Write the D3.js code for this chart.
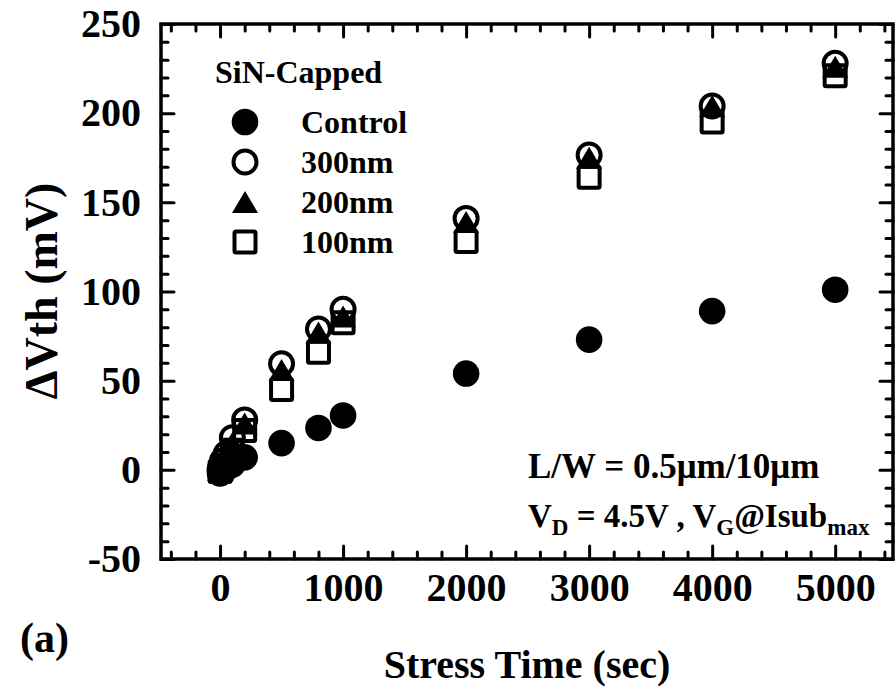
<!DOCTYPE html>
<html>
<head>
<meta charset="utf-8">
<script src="https://cdn.jsdelivr.net/npm/d3@7/dist/d3.min.js"></script>
<style>
  html, body { margin: 0; padding: 0; background: #fff; }
  svg text { font-family: "Liberation Serif", "Times New Roman", serif; font-weight: bold; fill: #000; }
</style>
</head>
<body>
<svg id="chart" width="896" height="698"></svg>
<script>
// Stress times (sec) and threshold-voltage shift (mV) per capping condition
const times    = [0, 10, 20, 50, 100, 200, 500, 800, 1000, 2000, 3000, 4000, 5000];
const control  = [-2, -1, 0, 1, 3, 7, 15, 23.5, 30.5, 54, 73, 89, 101];
const cap300nm = [0, 2, 5, 9, 18, 28, 59.5, 79, 90, 141, 176.5, 204, 228];
const cap200nm = [0, 1, 4, 7, 15, 26, 56, 77, 86, 139, 175, 204, 226];
const cap100nm = [-1, 0, 2, 5, 11, 22, 45, 66, 82.5, 128, 164, 195, 221];

const xTickValues = [0, 1000, 2000, 3000, 4000, 5000];
const yTickValues = [-50, 0, 50, 100, 150, 200, 250];
const seriesNames = ["Control", "300nm", "200nm", "100nm"];
const seriesShapes = ["disc", "ring", "triangle", "square"];

const svg = d3.select("#chart");
const frame = { left: 161, right: 893, top: 24, bottom: 559 };

const x = d3.scaleLinear().domain([-480, 5470]).range([frame.left, frame.right]);
const y = d3.scaleLinear().domain([-50, 250]).range([frame.bottom, frame.top]);

const xMinor = d3.range(-400, 5401, 200).filter(v => v % 1000 !== 0);
const yMinor = d3.range(-40, 250, 10).filter(v => v % 50 !== 0);

// plain hyphen for negative numbers
const tickFmt = v => String(v);

function styleAxis(g) {
  g.select(".domain").remove();
  g.selectAll(".tick line").attr("stroke", "#000").attr("stroke-width", 3).attr("stroke-linecap", "round");
  g.selectAll(".tick text").style("font-size", "40px");
}

// ticks pointing inward on all four sides
svg.append("g").attr("transform", `translate(0,${frame.bottom})`)
  .call(d3.axisBottom(x).tickValues(xTickValues).tickSizeInner(-13).tickSizeOuter(0).tickPadding(14).tickFormat(tickFmt))
  .call(styleAxis);
svg.append("g").attr("transform", `translate(0,${frame.bottom})`)
  .call(d3.axisBottom(x).tickValues(xMinor).tickSizeInner(-7).tickSizeOuter(0).tickFormat(""))
  .call(styleAxis);
svg.append("g").attr("transform", `translate(0,${frame.top})`)
  .call(d3.axisTop(x).tickValues(xTickValues).tickSizeInner(-13).tickSizeOuter(0).tickFormat(""))
  .call(styleAxis);
svg.append("g").attr("transform", `translate(0,${frame.top})`)
  .call(d3.axisTop(x).tickValues(xMinor).tickSizeInner(-7).tickSizeOuter(0).tickFormat(""))
  .call(styleAxis);

svg.append("g").attr("transform", `translate(${frame.left},0)`)
  .call(d3.axisLeft(y).tickValues(yTickValues).tickSizeInner(-13).tickSizeOuter(0).tickPadding(20).tickFormat(tickFmt))
  .call(styleAxis);
svg.append("g").attr("transform", `translate(${frame.left},0)`)
  .call(d3.axisLeft(y).tickValues(yMinor).tickSizeInner(-7).tickSizeOuter(0).tickFormat(""))
  .call(styleAxis);
svg.append("g").attr("transform", `translate(${frame.right},0)`)
  .call(d3.axisRight(y).tickValues(yTickValues).tickSizeInner(-13).tickSizeOuter(0).tickFormat(""))
  .call(styleAxis);
svg.append("g").attr("transform", `translate(${frame.right},0)`)
  .call(d3.axisRight(y).tickValues(yMinor).tickSizeInner(-7).tickSizeOuter(0).tickFormat(""))
  .call(styleAxis);

// plot frame
svg.append("rect")
  .attr("x", frame.left).attr("y", frame.top)
  .attr("width", frame.right - frame.left).attr("height", frame.bottom - frame.top)
  .attr("fill", "none").attr("stroke", "#000").attr("stroke-width", 3.5);

// marker drawing
function drawMarker(g, shape, cx, cy) {
  if (shape === "disc") {
    g.append("circle").attr("cx", cx).attr("cy", cy).attr("r", 13.3).attr("fill", "#000");
  } else if (shape === "ring") {
    g.append("circle").attr("cx", cx).attr("cy", cy).attr("r", 11.5)
      .attr("fill", "none").attr("stroke", "#000").attr("stroke-width", 4);
  } else if (shape === "triangle") {
    const w = 13, h = 11;
    g.append("path").attr("d", `M${cx},${cy - h}L${cx + w},${cy + h}L${cx - w},${cy + h}Z`).attr("fill", "#000");
  } else if (shape === "square") {
    const s = 10.5;
    g.append("rect").attr("x", cx - s).attr("y", cy - s).attr("width", 2 * s).attr("height", 2 * s)
      .attr("rx", 1.5).attr("fill", "none").attr("stroke", "#000").attr("stroke-width", 4);
  }
}

const allSeries = [control, cap300nm, cap200nm, cap100nm];
const marks = svg.append("g");
allSeries.forEach((vals, i) => {
  const g = marks.append("g").attr("class", "series-" + seriesNames[i]);
  vals.forEach((v, j) => drawMarker(g, seriesShapes[i], x(times[j]), y(v)));
});

// legend
const legend = svg.append("g");
legend.append("text").attr("x", 215).attr("y", 83).style("font-size", "32px").text("SiN-Capped");
seriesNames.forEach((name, i) => {
  const cy = 122 + i * 40;
  drawMarker(legend, seriesShapes[i], 245, cy);
  legend.append("text").attr("x", 301).attr("y", cy + 11).style("font-size", "32px").text(name);
});

// device / stress annotation
svg.append("text").attr("x", 528).attr("y", 478).style("font-size", "35px")
  .text("L/W = 0.5\u03bcm/10\u03bcm");
const cond = svg.append("text").attr("x", 528).attr("y", 527).style("font-size", "33px");
cond.append("tspan").text("V");
cond.append("tspan").attr("dy", 8).style("font-size", "23px").text("D");
cond.append("tspan").attr("dy", -8).text(" = 4.5V , V");
cond.append("tspan").attr("dy", 8).style("font-size", "23px").text("G");
cond.append("tspan").attr("dy", -8).text("@Isub");
cond.append("tspan").attr("dy", 8).style("font-size", "23px").text("max");

// axis titles
svg.append("text").attr("x", 527).attr("y", 678).attr("text-anchor", "middle")
  .style("font-size", "40px").text("Stress Time (sec)");
svg.append("text").attr("transform", "translate(57,291) rotate(-90)").attr("text-anchor", "middle")
  .style("font-size", "46px").text("\u0394Vth (mV)");
svg.append("text").attr("x", 20).attr("y", 652).style("font-size", "42px").text("(a)");
</script>
</body>
</html>
